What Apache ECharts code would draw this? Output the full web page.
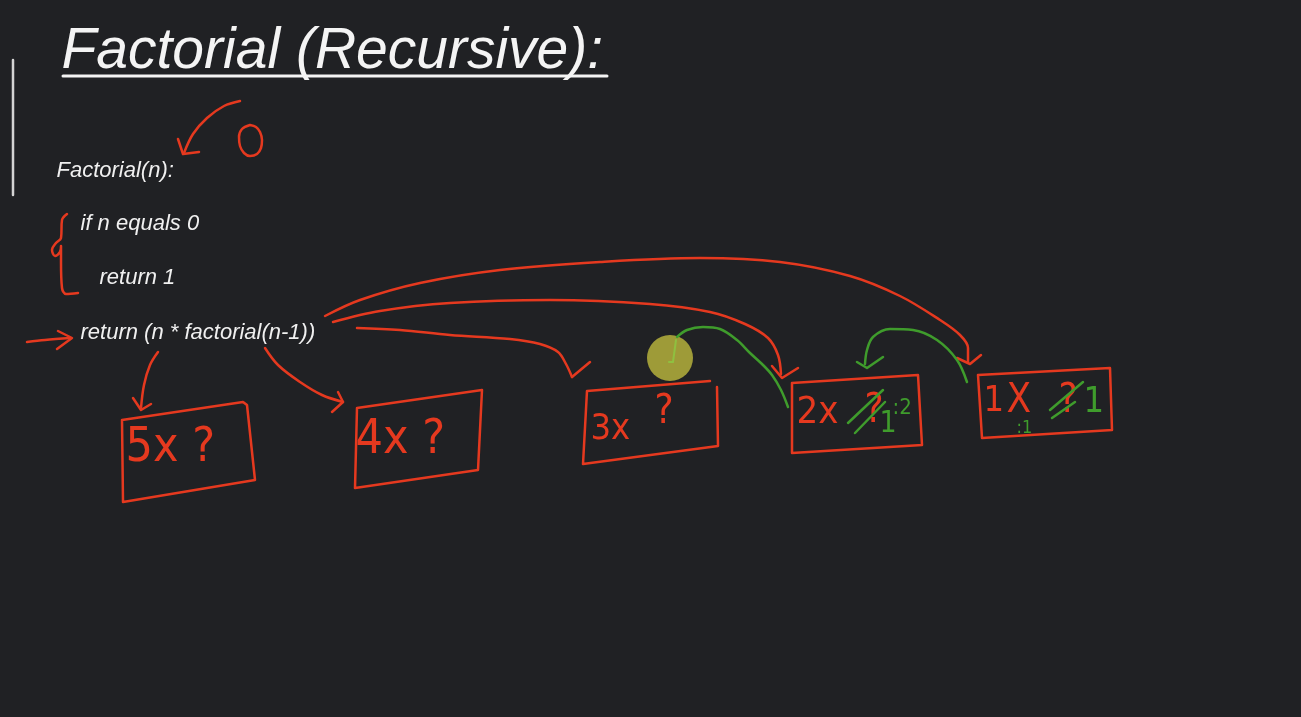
<!DOCTYPE html>
<html><head><meta charset="utf-8">
<script src="https://cdn.jsdelivr.net/npm/echarts@6/dist/echarts.min.js"></script>
<style>html,body{margin:0;padding:0;background:#202124;}#c{width:1301px;height:717px;}</style>
</head><body><div id="c"></div>
<script>
// ---- text content ----
const titleText = ['Factorial (Recursive):'];
const titleAnchor = [[61, 52]];
const codeLines = ['Factorial(n):', 'if n equals 0', 'return 1', 'return (n * factorial(n-1))'];
const codeAnchors = [[56, 171], [80, 224], [99, 278], [80, 333]];
const redNotes = ['5x ?', '4x ?', '3x', '?', '2x', '?', '1', 'X', '?'];
const redNoteAnchors = [[125, 449], [355, 441], [590, 430], [654, 413], [796, 413], [864, 412], [983, 402], [1006, 402], [1058, 402]];
const redNoteSizes = [48, 48, 36, 40, 38, 40, 36, 40, 40];
const greenNotes = ['1', ':2', '1', ':1'];
const greenNoteAnchors = [[879, 424], [892, 408], [1083, 403], [1016, 428]];
const greenNoteSizes = [30, 22, 36, 18];

// ---- strokes (in the 1301 x 717 sketch plane) ----
const whiteRule = [[13, 60], [13, 195]];
const titleUnderline = [[63, 76], [607, 76]];
const zeroArrow = [[240, 101], [224, 106], [207, 118], [193, 134], [184, 153]];
const zeroArrowHead = [[178, 139], [183, 154], [199, 152]];
const zeroDigit = [[250, 125], [256, 127], [260, 132], [262, 140], [261, 148], [257, 154], [250, 156], [244, 153], [240, 146], [239, 137], [242, 129], [250, 125]];
const brace = [[67, 214], [62, 220], [61, 238], [56, 243], [52, 250], [55, 256], [60, 252], [61, 246], [61, 262], [62, 288], [66, 294], [78, 293]];
const returnArrow = [[27, 342], [45, 340], [70, 338]];
const returnArrowHead = [[58, 331], [72, 338], [57, 349]];
const arrow5 = [[158, 352], [150, 365], [144, 385], [141, 408]];
const arrow5Head = [[133, 398], [141, 410], [151, 404]];
const box5 = [[122, 420], [243, 402], [247, 405], [255, 480], [123, 502], [122, 420]];
const arrow4 = [[265, 348], [278, 365], [300, 382], [322, 395], [343, 402]];
const arrow4Head = [[332, 412], [343, 402], [338, 392]];
const box4 = [[357, 408], [482, 390], [478, 470], [355, 488], [357, 408]];
const curveA = [[325, 316], [360, 300], [420, 283], [500, 270], [600, 262], [700, 258], [780, 262], [850, 276], [900, 296], [940, 320], [960, 335], [968, 348], [968, 362]];
const curveAHead = [[957, 358], [970, 364], [981, 355]];
const curveB = [[333, 322], [380, 311], [450, 303], [550, 300], [650, 304], [710, 312], [745, 324], [768, 338], [778, 355], [781, 374]];
const curveBHead = [[772, 366], [782, 378], [798, 368]];
const curveC = [[357, 328], [400, 330], [450, 335], [510, 339], [540, 344], [558, 352], [566, 364], [572, 377]];
const curveCHead = [[572, 377], [590, 362]];
const box3 = [[710, 381], [587, 391], [583, 464], [718, 446], [717, 387]];
const box2 = [[792, 383], [918, 375], [922, 445], [792, 453], [792, 383]];
const box1 = [[978, 375], [1110, 368], [1112, 430], [982, 438], [978, 375]];
const greenReturn3 = [[677, 337], [687, 330], [703, 327], [720, 329], [737, 340], [750, 353], [762, 364], [772, 375], [781, 390], [788, 407]];
const greenTick3 = [[676, 340], [673, 362], [669, 362]];
const greenReturn2 = [[967, 382], [957, 360], [937, 340], [913, 330], [890, 329], [873, 337], [867, 350], [865, 364]];
const greenReturn2Head = [[857, 362], [867, 368], [883, 357]];
const slash2a = [[848, 423], [883, 390]];
const slash2b = [[855, 433], [885, 402]];
const slash1a = [[1050, 410], [1083, 382]];
const slash1b = [[1052, 418], [1075, 402]];
const cursorSpot = [[670, 358]];

const RED = '#e5391f', GREEN = '#3f9c2c', WHITE = '#f4f4f4';

function stroke(data, color, width, smooth) {
  return {
    type: 'line', data: data, symbol: 'none', silent: true, smooth: smooth ? 0.35 : false,
    lineStyle: { color: color, width: width, cap: 'round', join: 'round' },
    animation: false, z: 3
  };
}
function texts(strings, anchors, sizes, color, family, italic) {
  return {
    type: 'scatter', silent: true, animation: false, symbolSize: 1, z: 5,
    itemStyle: { color: 'rgba(0,0,0,0)', opacity: 1 },
    data: strings.map((s, i) => ({
      value: anchors[i],
      label: {
        show: true, position: 'right', distance: 0, formatter: s, opacity: 1,
        fontSize: sizes[i], color: color, fontFamily: family,
        fontStyle: italic ? 'italic' : 'normal'
      }
    }))
  };
}

const series = [
  stroke(whiteRule, '#d4d4d4', 2.5, false),
  stroke(titleUnderline, WHITE, 3, false),
  stroke(zeroArrow, RED, 2.5, true), stroke(zeroArrowHead, RED, 2.5, false),
  stroke(zeroDigit, RED, 2.5, true), stroke(brace, RED, 2.5, true),
  stroke(returnArrow, RED, 2.5, true), stroke(returnArrowHead, RED, 2.5, false),
  stroke(arrow5, RED, 2.5, true), stroke(arrow5Head, RED, 2.5, false), stroke(box5, RED, 2.5, false),
  stroke(arrow4, RED, 2.5, true), stroke(arrow4Head, RED, 2.5, false), stroke(box4, RED, 2.5, false),
  stroke(curveA, RED, 2.5, true), stroke(curveAHead, RED, 2.5, false),
  stroke(curveB, RED, 2.5, true), stroke(curveBHead, RED, 2.5, false),
  stroke(curveC, RED, 2.5, true), stroke(curveCHead, RED, 2.5, false),
  stroke(box3, RED, 2.5, false), stroke(box2, RED, 2.5, false), stroke(box1, RED, 2.5, false),
  {
    type: 'scatter', data: cursorSpot, symbolSize: 46, silent: true, animation: false, z: 4,
    itemStyle: { color: '#b5b03c', opacity: 0.85 }
  },
  Object.assign(stroke(greenReturn3, GREEN, 2.5, true), { z: 6 }),
  Object.assign(stroke(greenTick3, '#8fc040', 2, false), { z: 6 }),
  stroke(greenReturn2, GREEN, 2.5, true), stroke(greenReturn2Head, GREEN, 2.5, false),
  Object.assign(stroke(slash2a, GREEN, 2.5, false), { z: 6 }), Object.assign(stroke(slash2b, GREEN, 2.5, false), { z: 6 }),
  Object.assign(stroke(slash1a, GREEN, 2.5, false), { z: 6 }), Object.assign(stroke(slash1b, GREEN, 2.5, false), { z: 6 }),
  texts(titleText, titleAnchor, [57], WHITE, '"Liberation Sans", Arial, sans-serif', true),
  texts(codeLines, codeAnchors, [22, 22, 22, 22], '#f0f0f0', '"Liberation Sans", Arial, sans-serif', true),
  texts(redNotes, redNoteAnchors, redNoteSizes, RED, '"DejaVu Sans Condensed", "Liberation Sans Narrow", "Liberation Sans", sans-serif', false),
  texts(greenNotes, greenNoteAnchors, greenNoteSizes, GREEN, '"DejaVu Sans Condensed", "Liberation Sans Narrow", "Liberation Sans", sans-serif', false)
];

const chart = echarts.init(document.getElementById('c'), null, { renderer: 'canvas' });
chart.setOption({
  backgroundColor: '#202124',
  animation: false,
  grid: { left: 0, right: 0, top: 0, bottom: 0 },
  xAxis: { type: 'value', min: 0, max: 1301, show: false },
  yAxis: { type: 'value', min: 0, max: 717, inverse: true, show: false },
  series: series
});
</script></body></html>
